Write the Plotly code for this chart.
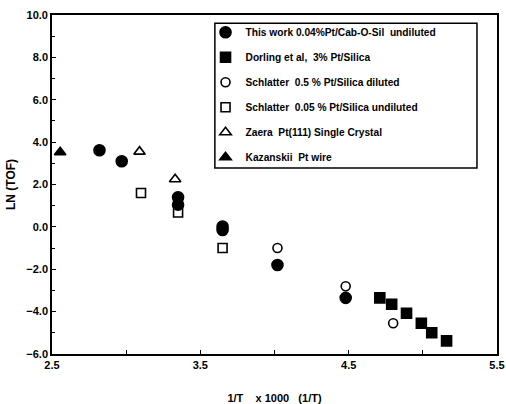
import plotly.graph_objects as go

# Data (x = 1000/T, y = ln(TOF))
this_work_x = [2.82, 2.97, 3.35, 3.35, 3.65, 3.65, 4.02, 4.48]
this_work_y = [3.62, 3.10, 1.40, 1.05, 0.02, -0.15, -1.80, -3.35]

dorling_x = [4.71, 4.79, 4.89, 4.99, 5.06, 5.16]
dorling_y = [-3.35, -3.65, -4.08, -4.55, -5.00, -5.38]

schl05_x = [4.02, 4.48, 4.80]
schl05_y = [-1.00, -2.80, -4.55]

schl005_x = [3.10, 3.35, 3.65]
schl005_y = [1.60, 0.68, -1.00]

zaera_x = [3.09, 3.33]
zaera_y = [3.55, 2.25]

kaz_x = [2.555]
kaz_y = [3.52]

names = [
    "This work 0.04%Pt/Cab-O-Sil\u00a0\u00a0undiluted",
    "Dorling et al,\u00a0\u00a03% Pt/Silica",
    "Schlatter\u00a0\u00a00.5 % Pt/Silica diluted",
    "Schlatter\u00a0\u00a00.05 % Pt/Silica undiluted",
    "Zaera\u00a0\u00a0Pt(111) Single Crystal",
    "Kazanskii\u00a0\u00a0Pt wire",
]

series = [
    (this_work_x, this_work_y, "circle", 11),
    (dorling_x, dorling_y, "square", 10),
    (schl05_x, schl05_y, "circle-open", 9),
    (schl005_x, schl005_y, "square-open", 9),
    (zaera_x, zaera_y, "triangle-up-open", 10),
    (kaz_x, kaz_y, "triangle-up", 10),
]

fig = go.Figure()
for i, ((xs, ys, sym, sz), nm) in enumerate(zip(series, names)):
    fig.add_trace(go.Scatter(
        x=xs, y=ys, mode="markers", name=nm, legendgroup=f"g{i}",
        marker=dict(symbol=sym, size=sz, color="black",
                    line=dict(color="black", width=1.6)),
    ))

font_family = "Liberation Sans, Arial, sans-serif"

# legend frame (drawn as a shape so it can be as wide as the original box)
fig.add_shape(type="rect", xref="paper", yref="paper",
              x0=0.366, x1=0.955, y0=0.549, y1=0.976,
              line=dict(color="black", width=1.5), fillcolor="rgba(0,0,0,0)",
              layer="above")

fig.update_layout(
    width=506, height=404,
    margin=dict(l=52, r=9, t=15, b=50),
    paper_bgcolor="white", plot_bgcolor="white",
    font=dict(family=font_family, color="black", size=11, weight="bold"),
    showlegend=True,
    legend=dict(
        x=0.345, y=0.992, xanchor="left", yanchor="top",
        borderwidth=0, bgcolor="rgba(0,0,0,0)",
        font=dict(family=font_family, size=10.2, color="black", weight="bold"),
        tracegroupgap=6, itemwidth=30,
    ),
    xaxis=dict(
        range=[2.5, 5.5], tick0=2.5, dtick=1, tickformat=".1f",
        showgrid=False, zeroline=False, automargin=False,
        showline=True, linecolor="black", linewidth=1.6, mirror=True,
        ticks="inside", ticklen=4, tickcolor="black",
        minor=dict(dtick=0.5, ticks="inside", ticklen=4, tickcolor="black"),
        tickfont=dict(size=11, weight="bold"),
        title=dict(text="1/T\u00a0\u00a0\u00a0\u00a0x 1000\u00a0\u00a0\u00a0(1/T)",
                   font=dict(size=11, weight="bold"), standoff=24),
    ),
    yaxis=dict(
        range=[-6, 10], tick0=-6, dtick=2, tickformat=".1f",
        showgrid=False, zeroline=False, automargin=False,
        showline=True, linecolor="black", linewidth=1.6, mirror=True,
        ticks="inside", ticklen=4, tickcolor="black",
        minor=dict(dtick=1, ticks="inside", ticklen=3, tickcolor="black"),
        tickfont=dict(size=11, weight="bold"),
        title=dict(text="LN (TOF)", font=dict(size=12, weight="bold"), standoff=8),
    ),
)

fig.write_html("out.html")
